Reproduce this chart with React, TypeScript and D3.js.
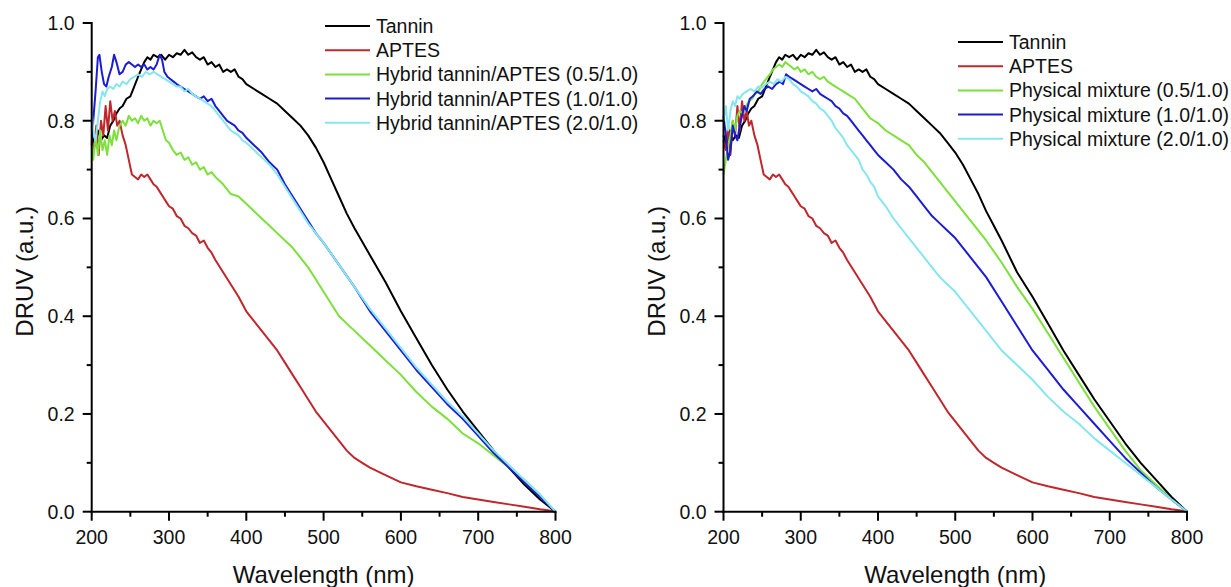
import React from "react";
import * as d3 from "d3";

type Pt = [number, number];

// wavelength (nm), DRUV (a.u.)
const tanninLeft: Pt[] = [
  [200, 0.77], [204, 0.75], [208, 0.78], [212, 0.76], [216, 0.77], [220, 0.765], [224, 0.79], [228, 0.8],
  [232, 0.815], [236, 0.825], [240, 0.83], [245, 0.845], [250, 0.85], [255, 0.87], [260, 0.89], [264, 0.905],
  [268, 0.92], [272, 0.93], [276, 0.925], [280, 0.935], [285, 0.93], [290, 0.935], [295, 0.925], [300, 0.935],
  [305, 0.93], [310, 0.938], [315, 0.935], [320, 0.945], [325, 0.935], [330, 0.94], [335, 0.93], [340, 0.925],
  [345, 0.93], [350, 0.915], [355, 0.92], [360, 0.91], [365, 0.915], [370, 0.9], [375, 0.905], [380, 0.9],
  [385, 0.905], [390, 0.89], [395, 0.885], [400, 0.875], [410, 0.865], [420, 0.855], [430, 0.845], [440, 0.835],
  [450, 0.82], [460, 0.805], [470, 0.79], [480, 0.77], [490, 0.745], [500, 0.715], [510, 0.68], [520, 0.645],
  [530, 0.61], [540, 0.58], [560, 0.525], [580, 0.47], [600, 0.41], [620, 0.355], [640, 0.3], [660, 0.25],
  [680, 0.205], [700, 0.165], [720, 0.125], [740, 0.09], [760, 0.055], [780, 0.025], [800, 0],
];

const tanninRight: Pt[] = [
  [200, 0.77], [204, 0.75], [208, 0.78], [212, 0.76], [216, 0.77], [220, 0.765], [224, 0.79], [228, 0.8],
  [232, 0.815], [236, 0.825], [240, 0.83], [245, 0.845], [250, 0.85], [255, 0.87], [260, 0.89], [264, 0.905],
  [268, 0.92], [272, 0.93], [276, 0.925], [280, 0.935], [285, 0.93], [290, 0.935], [295, 0.925], [300, 0.935],
  [305, 0.93], [310, 0.938], [315, 0.935], [320, 0.945], [325, 0.935], [330, 0.94], [335, 0.93], [340, 0.925],
  [345, 0.93], [350, 0.915], [355, 0.92], [360, 0.91], [365, 0.915], [370, 0.9], [375, 0.905], [380, 0.9],
  [385, 0.905], [390, 0.89], [395, 0.885], [400, 0.875], [410, 0.865], [420, 0.855], [430, 0.845], [440, 0.835],
  [450, 0.82], [460, 0.805], [470, 0.79], [480, 0.775], [490, 0.755], [500, 0.735], [510, 0.71], [520, 0.68],
  [530, 0.65], [540, 0.615], [550, 0.585], [560, 0.555], [580, 0.49], [600, 0.44], [620, 0.385], [640, 0.33],
  [660, 0.28], [680, 0.23], [700, 0.185], [720, 0.14], [740, 0.1], [760, 0.065], [780, 0.03], [800, 0],
];

const aptes: Pt[] = [
  [200, 0.76], [203, 0.74], [206, 0.79], [209, 0.73], [212, 0.8], [215, 0.77], [218, 0.83], [221, 0.78],
  [224, 0.84], [227, 0.8], [230, 0.82], [233, 0.79], [236, 0.8], [240, 0.77], [244, 0.75], [248, 0.72],
  [252, 0.69], [256, 0.685], [260, 0.68], [264, 0.69], [268, 0.685], [272, 0.69], [276, 0.68], [280, 0.67],
  [284, 0.665], [288, 0.655], [292, 0.645], [296, 0.635], [300, 0.625], [305, 0.62], [310, 0.605], [315, 0.6],
  [320, 0.585], [325, 0.58], [330, 0.57], [335, 0.565], [340, 0.55], [345, 0.555], [350, 0.54], [355, 0.53],
  [360, 0.515], [370, 0.49], [380, 0.465], [390, 0.44], [400, 0.41], [410, 0.39], [420, 0.37], [430, 0.35],
  [440, 0.33], [450, 0.305], [460, 0.28], [470, 0.255], [480, 0.23], [490, 0.205], [500, 0.185], [510, 0.165],
  [520, 0.145], [530, 0.125], [540, 0.11], [550, 0.1], [560, 0.09], [580, 0.075], [600, 0.06], [620, 0.052],
  [640, 0.045], [660, 0.038], [680, 0.03], [700, 0.025], [720, 0.02], [740, 0.015], [760, 0.01], [780, 0.005],
  [790, 0.003], [800, 0],
];

const hybrid05: Pt[] = [
  [200, 0.75], [202, 0.72], [205, 0.77], [208, 0.73], [211, 0.78], [214, 0.74], [217, 0.76], [220, 0.73],
  [223, 0.77], [226, 0.75], [229, 0.78], [232, 0.76], [236, 0.79], [240, 0.8], [244, 0.79], [248, 0.81],
  [252, 0.8], [256, 0.805], [260, 0.795], [264, 0.81], [268, 0.8], [272, 0.805], [276, 0.79], [280, 0.8],
  [284, 0.795], [288, 0.8], [292, 0.78], [296, 0.76], [300, 0.755], [305, 0.74], [310, 0.73], [315, 0.735],
  [320, 0.72], [325, 0.725], [330, 0.71], [335, 0.715], [340, 0.7], [345, 0.705], [350, 0.69], [355, 0.695],
  [360, 0.685], [370, 0.67], [380, 0.65], [390, 0.645], [400, 0.63], [410, 0.615], [420, 0.6], [430, 0.585],
  [440, 0.57], [450, 0.555], [460, 0.54], [470, 0.52], [480, 0.5], [490, 0.475], [500, 0.45], [510, 0.425],
  [520, 0.4], [540, 0.37], [560, 0.34], [580, 0.31], [600, 0.28], [620, 0.245], [640, 0.215], [660, 0.19],
  [680, 0.16], [700, 0.14], [720, 0.115], [740, 0.09], [760, 0.065], [780, 0.035], [800, 0],
];

const hybrid10: Pt[] = [
  [200, 0.75], [202, 0.8], [205, 0.86], [208, 0.93], [210, 0.935], [213, 0.9], [216, 0.875], [219, 0.87],
  [222, 0.89], [226, 0.91], [229, 0.935], [232, 0.92], [236, 0.895], [240, 0.9], [244, 0.915], [248, 0.92],
  [252, 0.915], [256, 0.91], [260, 0.915], [264, 0.91], [268, 0.915], [272, 0.905], [276, 0.91], [280, 0.905],
  [284, 0.915], [288, 0.935], [291, 0.925], [294, 0.9], [298, 0.89], [302, 0.885], [306, 0.88], [310, 0.875],
  [315, 0.87], [320, 0.865], [325, 0.86], [330, 0.855], [335, 0.85], [340, 0.845], [345, 0.85], [350, 0.84],
  [355, 0.845], [360, 0.83], [365, 0.82], [370, 0.81], [375, 0.8], [380, 0.795], [385, 0.79], [390, 0.78],
  [395, 0.775], [400, 0.765], [410, 0.75], [420, 0.735], [430, 0.715], [440, 0.7], [450, 0.67], [460, 0.645],
  [470, 0.62], [480, 0.595], [490, 0.57], [500, 0.55], [520, 0.505], [540, 0.46], [560, 0.41], [580, 0.37],
  [600, 0.33], [620, 0.29], [640, 0.255], [660, 0.22], [680, 0.19], [700, 0.155], [720, 0.12], [740, 0.09],
  [760, 0.06], [780, 0.03], [800, 0],
];

const hybrid20: Pt[] = [
  [200, 0.82], [202, 0.78], [205, 0.76], [208, 0.8], [211, 0.84], [214, 0.86], [217, 0.85], [220, 0.865],
  [224, 0.87], [228, 0.865], [232, 0.875], [236, 0.87], [240, 0.88], [245, 0.875], [250, 0.885], [255, 0.89],
  [260, 0.895], [265, 0.89], [270, 0.9], [275, 0.895], [280, 0.9], [285, 0.895], [290, 0.89], [295, 0.885],
  [300, 0.88], [305, 0.875], [310, 0.87], [315, 0.87], [320, 0.86], [325, 0.865], [330, 0.855], [335, 0.85],
  [340, 0.845], [345, 0.84], [350, 0.835], [355, 0.83], [360, 0.82], [365, 0.81], [370, 0.8], [375, 0.79],
  [380, 0.78], [385, 0.775], [390, 0.77], [395, 0.76], [400, 0.755], [410, 0.74], [420, 0.725], [430, 0.71],
  [440, 0.69], [450, 0.665], [460, 0.64], [470, 0.615], [480, 0.59], [490, 0.57], [500, 0.55], [520, 0.505],
  [540, 0.46], [560, 0.415], [580, 0.375], [600, 0.335], [620, 0.295], [640, 0.26], [660, 0.225], [680, 0.195],
  [700, 0.16], [720, 0.125], [740, 0.095], [760, 0.065], [780, 0.035], [800, 0],
];

const physical05: Pt[] = [
  [200, 0.69], [203, 0.72], [206, 0.75], [209, 0.77], [212, 0.8], [215, 0.78], [218, 0.81], [221, 0.82],
  [225, 0.815], [229, 0.83], [233, 0.84], [237, 0.845], [241, 0.855], [245, 0.86], [250, 0.875], [255, 0.885],
  [260, 0.895], [264, 0.905], [268, 0.91], [272, 0.915], [276, 0.91], [280, 0.92], [284, 0.915], [288, 0.91],
  [292, 0.905], [296, 0.91], [300, 0.9], [305, 0.905], [310, 0.895], [315, 0.9], [320, 0.89], [325, 0.885],
  [330, 0.89], [335, 0.88], [340, 0.875], [345, 0.87], [350, 0.865], [355, 0.86], [360, 0.855], [365, 0.85],
  [370, 0.845], [375, 0.835], [380, 0.825], [385, 0.815], [390, 0.805], [395, 0.8], [400, 0.795], [410, 0.78],
  [420, 0.77], [430, 0.76], [440, 0.75], [450, 0.73], [460, 0.715], [470, 0.695], [480, 0.675], [490, 0.655],
  [500, 0.635], [510, 0.615], [520, 0.595], [540, 0.555], [560, 0.51], [580, 0.46], [600, 0.415], [620, 0.365],
  [640, 0.315], [660, 0.265], [680, 0.215], [700, 0.17], [720, 0.125], [740, 0.085], [760, 0.055], [780, 0.025],
  [800, 0],
];

const physical10: Pt[] = [
  [200, 0.81], [203, 0.77], [206, 0.72], [209, 0.74], [212, 0.79], [215, 0.77], [218, 0.76], [221, 0.79],
  [224, 0.81], [227, 0.83], [230, 0.82], [234, 0.845], [238, 0.85], [243, 0.86], [248, 0.855], [253, 0.865],
  [258, 0.87], [263, 0.865], [268, 0.875], [273, 0.88], [277, 0.875], [281, 0.895], [285, 0.89], [290, 0.885],
  [295, 0.88], [300, 0.875], [305, 0.87], [310, 0.865], [315, 0.86], [320, 0.865], [325, 0.855], [330, 0.85],
  [335, 0.845], [340, 0.84], [345, 0.83], [350, 0.825], [355, 0.815], [360, 0.81], [365, 0.8], [370, 0.79],
  [375, 0.78], [380, 0.77], [385, 0.76], [390, 0.75], [395, 0.74], [400, 0.73], [410, 0.715], [420, 0.7],
  [430, 0.68], [440, 0.665], [450, 0.645], [460, 0.625], [470, 0.605], [480, 0.59], [490, 0.575], [500, 0.56],
  [520, 0.52], [540, 0.48], [560, 0.43], [580, 0.38], [600, 0.33], [620, 0.29], [640, 0.25], [660, 0.215],
  [680, 0.18], [700, 0.145], [720, 0.11], [740, 0.08], [760, 0.05], [780, 0.025], [800, 0],
];

const physical20: Pt[] = [
  [200, 0.8], [203, 0.83], [206, 0.78], [209, 0.82], [212, 0.84], [215, 0.83], [218, 0.85], [221, 0.845],
  [225, 0.855], [230, 0.86], [235, 0.865], [240, 0.86], [245, 0.87], [250, 0.868], [255, 0.875], [260, 0.88],
  [265, 0.875], [270, 0.885], [275, 0.88], [280, 0.89], [285, 0.885], [290, 0.875], [295, 0.87], [300, 0.86],
  [305, 0.855], [310, 0.85], [315, 0.84], [320, 0.835], [325, 0.825], [330, 0.82], [335, 0.81], [340, 0.8],
  [345, 0.785], [350, 0.775], [355, 0.765], [360, 0.75], [365, 0.74], [370, 0.73], [375, 0.72], [380, 0.7],
  [385, 0.69], [390, 0.675], [395, 0.665], [400, 0.645], [410, 0.625], [420, 0.6], [430, 0.58], [440, 0.56],
  [450, 0.54], [460, 0.52], [470, 0.5], [480, 0.48], [490, 0.465], [500, 0.45], [510, 0.43], [520, 0.41],
  [540, 0.37], [560, 0.33], [580, 0.3], [600, 0.27], [620, 0.235], [640, 0.205], [660, 0.18], [680, 0.15],
  [700, 0.125], [720, 0.1], [740, 0.075], [760, 0.05], [780, 0.025], [800, 0],
];

const leftLabels = [
  "Tannin",
  "APTES",
  "Hybrid tannin/APTES (0.5/1.0)",
  "Hybrid tannin/APTES (1.0/1.0)",
  "Hybrid tannin/APTES (2.0/1.0)",
];
const rightLabels = [
  "Tannin",
  "APTES",
  "Physical mixture (0.5/1.0)",
  "Physical mixture (1.0/1.0)",
  "Physical mixture (2.0/1.0)",
];
const colors = ["#000000", "#c0272d", "#7ee03c", "#1c1cd2", "#86e6ee"];

const xTicks = [200, 300, 400, 500, 600, 700, 800];
const yTicks = [0, 0.2, 0.4, 0.6, 0.8, 1.0];

const FONT = "'Liberation Sans', Arial, sans-serif";

type PanelProps = {
  x0: number;
  x1: number;
  series: Pt[][];
  labels: string[];
  legendX: number;
  legendY: number;
  titleX: number;
};

const Panel = ({ x0, x1, series, labels, legendX, legendY, titleX }: PanelProps) => {
  const yTop = 23;
  const yBot = 511.7;
  const x = d3.scaleLinear().domain([200, 800]).range([x0, x1]);
  const y = d3.scaleLinear().domain([0, 1]).range([yBot, yTop]);
  const line = d3
    .line<Pt>()
    .x((d) => x(d[0]))
    .y((d) => y(d[1]));
  const minorX = d3.range(250, 800, 100);
  const minorY = d3.range(0.1, 1, 0.2);

  return (
    <g fontFamily={FONT} fill="#111">
      {series.map((s, i) => (
        <path key={i} d={line(s) ?? ""} fill="none" stroke={colors[i]} strokeWidth={2} strokeLinejoin="round" />
      ))}
      {/* axes */}
      <line x1={x0} x2={x0} y1={yTop - 1} y2={yBot + 1} stroke="#000" strokeWidth={2} />
      <line x1={x0 - 1} x2={x1 + 1} y1={yBot} y2={yBot} stroke="#000" strokeWidth={2} />
      {xTicks.map((t) => (
        <g key={t}>
          <line x1={x(t)} x2={x(t)} y1={yBot} y2={yBot + 9} stroke="#000" strokeWidth={2} />
          <text x={x(t)} y={yBot + 32} textAnchor="middle" fontSize={19.5}>
            {t}
          </text>
        </g>
      ))}
      {minorX.map((t) => (
        <line key={t} x1={x(t)} x2={x(t)} y1={yBot} y2={yBot + 5} stroke="#000" strokeWidth={2} />
      ))}
      {yTicks.map((t) => (
        <g key={t}>
          <line x1={x0 - 9} x2={x0} y1={y(t)} y2={y(t)} stroke="#000" strokeWidth={2} />
          <text x={x0 - 17} y={y(t) + 7} textAnchor="end" fontSize={19.5}>
            {t.toFixed(1)}
          </text>
        </g>
      ))}
      {minorY.map((t) => (
        <line key={t} x1={x0 - 5} x2={x0} y1={y(t)} y2={y(t)} stroke="#000" strokeWidth={2} />
      ))}
      <text x={(x0 + x1) / 2} y={583} textAnchor="middle" fontSize={24}>
        Wavelength (nm)
      </text>
      <text
        transform={`translate(${titleX},${(yTop + yBot) / 2 + 4}) rotate(-90)`}
        textAnchor="middle"
        fontSize={24}
      >
        DRUV (a.u.)
      </text>
      {/* legend */}
      {labels.map((lab, i) => (
        <g key={lab} transform={`translate(${legendX},${legendY + i * 24.2})`}>
          <line x1={0} x2={45} y1={0} y2={0} stroke={colors[i]} strokeWidth={2} />
          <text x={51} y={7} fontSize={19.5}>
            {lab}
          </text>
        </g>
      ))}
    </g>
  );
};

export default function App() {
  return (
    <svg
      width={1231}
      height={587}
      style={{ position: "absolute", left: 0, top: 0, background: "#fff" }}
    >
      <Panel
        x0={91.7}
        x1={555.5}
        series={[tanninLeft, aptes, hybrid05, hybrid10, hybrid20]}
        labels={leftLabels}
        legendX={325}
        legendY={26}
        titleX={33}
      />
      <Panel
        x0={723.5}
        x1={1187}
        series={[tanninRight, aptes, physical05, physical10, physical20]}
        labels={rightLabels}
        legendX={958}
        legendY={42}
        titleX={665}
      />
    </svg>
  );
}
